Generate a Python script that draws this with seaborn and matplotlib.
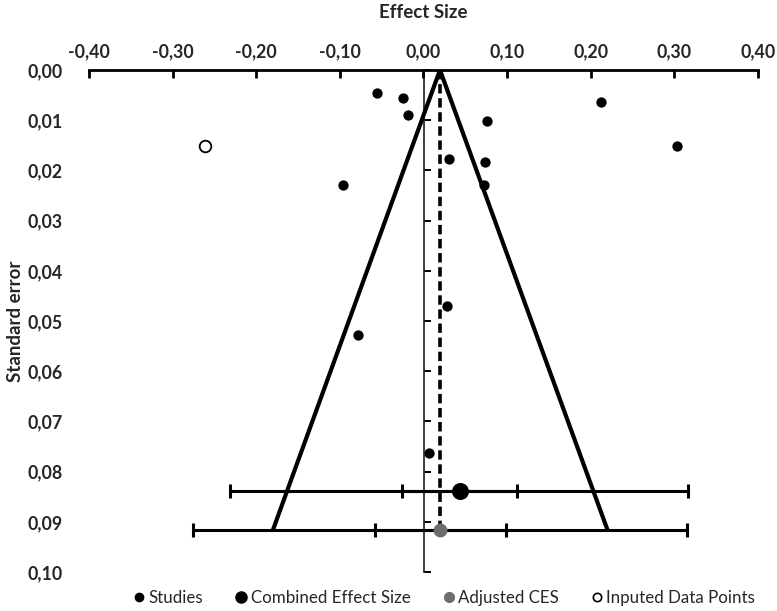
import numpy as np
import pandas as pd
import matplotlib
matplotlib.use("Agg")
import matplotlib.pyplot as plt
import seaborn as sns
from matplotlib.ticker import FuncFormatter, MultipleLocator
from matplotlib.lines import Line2D

# ---- data ----
study_effect = [-0.056, -0.025, -0.018, 0.212, 0.076, 0.303, 0.031, 0.073, 0.072, -0.096, 0.028, -0.078, 0.006]
study_se = [0.0046, 0.0056, 0.0090, 0.0064, 0.0102, 0.0151, 0.0177, 0.0184, 0.0230, 0.0230, 0.0471, 0.0528, 0.0762]

imputed_effect = [-0.261]
imputed_se = [0.0151]

ces_effect = 0.0437
ces_se = 0.0839
ces_ci = (-0.026, 0.1115)
ces_pi = (-0.2315, 0.3168)

adj_effect = 0.0197
adj_se = 0.0916
adj_ci = (-0.058, 0.0983)
adj_pi = (-0.2754, 0.3148)

funnel_x = [-0.180, 0.0197, 0.220]
funnel_y = [0.0916, 0.0, 0.0916]

legend_labels = ["Studies", "Combined Effect Size", "Adjusted CES", "Inputed Data Points"]

# ---- style ----
sns.set_theme(style="white")
plt.rcParams["font.family"] = ["Lato", "DejaVu Sans"]
plt.rcParams["axes.unicode_minus"] = False

fig = plt.figure(figsize=(7.77, 6.11), dpi=100)
ax = fig.add_axes([89 / 777, 1 - 572 / 611, (758 - 89) / 777, (572 - 70) / 611])

df = pd.DataFrame({"effect": study_effect, "se": study_se})

# funnel
ax.plot(funnel_x, funnel_y, color="black", lw=3.0, zorder=2, solid_joinstyle="miter")
# dashed adjusted line
ax.plot([adj_effect, adj_effect], [0.0, adj_se], color="black", lw=2.6,
        linestyle=(0, (2.6, 1.3)), zorder=2)

# error bars
for c, y, ci, pi in [(ces_effect, ces_se, ces_ci, ces_pi), (adj_effect, adj_se, adj_ci, adj_pi)]:
    ax.errorbar([c], [y], xerr=[[c - pi[0]], [pi[1] - c]], fmt="none", ecolor="black",
                elinewidth=2.2, capsize=5, capthick=2.2, zorder=3)
    ax.errorbar([c], [y], xerr=[[c - ci[0]], [ci[1] - c]], fmt="none", ecolor="black",
                elinewidth=2.2, capsize=5, capthick=2.2, zorder=3)

sns.scatterplot(data=df, x="effect", y="se", ax=ax, color="black", s=55,
                edgecolor="black", linewidth=0, zorder=4, legend=False)
sns.scatterplot(x=imputed_effect, y=imputed_se, ax=ax, color="white", s=70,
                edgecolor="black", linewidth=1.3, zorder=4, legend=False)
sns.scatterplot(x=[ces_effect], y=[ces_se], ax=ax, color="black", s=150,
                edgecolor="black", linewidth=0, zorder=5, legend=False)
sns.scatterplot(x=[adj_effect], y=[adj_se], ax=ax, color="#6d6d6d", s=100,
                edgecolor="#6d6d6d", linewidth=0, zorder=5, legend=False)

ax.set_xlim(-0.40, 0.40)
ax.set_ylim(0.10, 0.0)

fmt = FuncFormatter(lambda v, p: f"{v:.2f}".replace(".", ",").replace("-0,00", "0,00"))
ax.xaxis.set_major_locator(MultipleLocator(0.10))
ax.yaxis.set_major_locator(MultipleLocator(0.01))
ax.xaxis.set_major_formatter(fmt)
ax.yaxis.set_major_formatter(fmt)

for s in ["left", "right", "bottom"]:
    ax.spines[s].set_visible(False)
ax.spines["top"].set_visible(True)
ax.spines["top"].set_linewidth(2.0)
ax.spines["top"].set_color("black")

ax.xaxis.tick_top()
ax.xaxis.set_label_position("top")
ax.tick_params(axis="x", which="major", top=True, bottom=False, direction="in",
               length=6, width=2.0, color="black", pad=7, labelsize=12.8)
ax.tick_params(axis="y", which="major", left=False, right=False, pad=13, labelsize=12.8)
for lab in ax.get_xticklabels() + ax.get_yticklabels():
    lab.set_fontweight("bold")

# vertical axis at x=0 with tick marks
sec = ax.secondary_yaxis(0.5)
sec.yaxis.set_major_locator(MultipleLocator(0.01))
sec.tick_params(axis="y", direction="out", length=5, width=1.4, color="black", labelleft=False,
                labelright=False)
sec.spines["left"].set_linewidth(1.4)
sec.spines["left"].set_color("black")

ax.set_xlabel("Effect Size", fontweight="bold", fontsize=13.5)
ax.set_ylabel("Standard error", fontweight="bold", fontsize=13.5)
ax.xaxis.label.set_va("center")
ax.xaxis.label.set_ha("center")
ax.yaxis.label.set_va("center")
ax.yaxis.label.set_ha("center")
ax.xaxis.set_label_coords(0.5, 1 + (70 - 12) / 502)
ax.yaxis.set_label_coords(-(89 - 15) / 669, 0.5)

handles = [
    Line2D([], [], marker="o", linestyle="none", markerfacecolor="black", markeredgecolor="black", markersize=6),
    Line2D([], [], marker="o", linestyle="none", markerfacecolor="black", markeredgecolor="black", markersize=8),
    Line2D([], [], marker="o", linestyle="none", markerfacecolor="#6d6d6d", markeredgecolor="#6d6d6d", markersize=7),
    Line2D([], [], marker="o", linestyle="none", markerfacecolor="white", markeredgecolor="black", markersize=6, markeredgewidth=1.2),
]
fig.legend(handles, legend_labels, loc="center", ncol=4, frameon=False,
           bbox_to_anchor=(443 / 777, 1 - 598 / 611), fontsize=12.2,
           handletextpad=0.05, columnspacing=1.75, handlelength=1.0)

fig.savefig("out.png", dpi=100)
